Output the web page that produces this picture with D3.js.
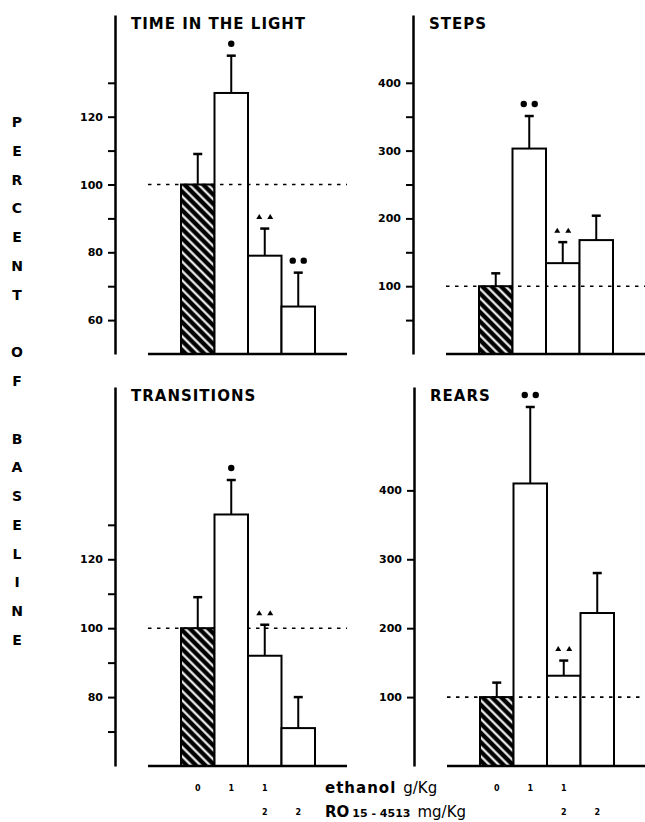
<!DOCTYPE html>
<meta charset="utf-8">
<title>Percent of baseline</title>
<style>
body { margin:0; background:#fff; }
svg text { font-family: "DejaVu Sans", sans-serif; fill:#000; }
.tick text { font-size:11px; font-weight:bold; }
.title { font-size:15px; font-weight:bold; letter-spacing:1px; }
.side { font-size:14px; font-weight:bold; text-anchor:middle; }
.dose { font-size:8px; font-weight:bold; text-anchor:middle; }
</style>
<svg width="645" height="822"></svg>
<script src="https://d3js.org/d3.v7.min.js"></script>
<script>

var svg = d3.select("svg");

// data
var panels = ["TIME IN THE LIGHT", "STEPS", "TRANSITIONS", "REARS"];
var means  = [[100, 127, 79, 64], [100, 303, 134, 168], [100, 133, 92, 71], [100, 410, 131, 222]];
var sems   = [[9, 11, 8, 10], [19, 48, 31, 36], [9, 10, 9, 9], [21, 111, 22, 58]];
var marks  = [["", "dot", "tri2", "dot2"], ["", "dot2", "tri2", ""], ["", "dot", "tri2", ""], ["", "dot2", "tri2", ""]];
var yDomains   = [[50, 150], [0, 500], [60, 170], [0, 550]];
var tickValues = [[60, 70, 80, 90, 100, 110, 120, 130],
                  [50, 100, 150, 200, 250, 300, 350, 400],
                  [70, 80, 90, 100, 110, 120, 130],
                  [100, 200, 300, 400]];
var tickLabels = [[60, 80, 100, 120], [100, 200, 300, 400], [80, 100, 120], [100, 200, 300, 400]];
var baseline = 100;
var ethanolDose = ["0", "1", "1", ""];
var roDose      = ["", "", "2", "2"];
var sideLabel = "PERCENT OF BASELINE";

// panel frames
var frames = [{ax:115, top:15, bottom:354}, {ax:413, top:15, bottom:354},
              {ax:115, top:387, bottom:766}, {ax:414, top:387, bottom:766}];

// hatch for the control bar
var pat = svg.append("defs").append("pattern")
    .attr("id", "hatch")
    .attr("patternUnits", "userSpaceOnUse")
    .attr("width", 6.6).attr("height", 6.6)
    .attr("patternTransform", "rotate(-45)");
pat.append("rect").attr("width", 6.6).attr("height", 6.6).attr("fill", "#000");
pat.append("rect").attr("x", 2.2).attr("width", 2.1).attr("height", 6.6).attr("fill", "#fff");

panels.forEach(function(title, p) {
  var F = frames[p];
  var y = d3.scaleLinear().domain(yDomains[p]).range([F.bottom, F.top]);
  var x = d3.scaleBand().domain(d3.range(4)).range([F.ax + 66, F.ax + 200]);
  var bw = x.bandwidth();
  var g = svg.append("g");

  var ax = g.append("g")
      .attr("transform", "translate(" + F.ax + ",0)")
      .call(d3.axisLeft(y).tickValues(tickValues[p]).tickSizeInner(7).tickSizeOuter(0).tickPadding(5)
        .tickFormat(function(d) { return tickLabels[p].indexOf(d) >= 0 ? d : ""; }));
  ax.select(".domain").attr("stroke-width", 2.5);
  ax.selectAll(".tick line").attr("stroke-width", 2);
  ax.attr("font-family", null).attr("font-size", null);

  var drawRef = function() {
    g.append("line")
      .attr("x1", F.ax + 33).attr("x2", F.ax + 232)
      .attr("y1", y(baseline)).attr("y2", y(baseline))
      .attr("stroke", "#000").attr("stroke-width", 1.6)
      .attr("stroke-dasharray", "3.5,5.5");
  };
  if (p == 2) drawRef();

  g.selectAll(".bar")
    .data(means[p])
    .enter().append("rect")
      .attr("x", function(d, i) { return x(i); })
      .attr("y", function(d) { return y(d); })
      .attr("width", bw)
      .attr("height", function(d) { return y(yDomains[p][0]) - y(d); })
      .attr("fill", function(d, i) { return i == 0 ? "url(#hatch)" : "#fff"; })
      .attr("stroke", "#000").attr("stroke-width", 2);

  if (p != 2) drawRef();

  // error bars
  means[p].forEach(function(m, i) {
    var cx = x(i) + bw / 2, yt = y(m + sems[p][i]);
    g.append("line").attr("x1", cx).attr("x2", cx).attr("y1", y(m)).attr("y2", yt)
      .attr("stroke", "#000").attr("stroke-width", 2);
    g.append("line").attr("x1", cx - 4.5).attr("x2", cx + 4.5).attr("y1", yt).attr("y2", yt)
      .attr("stroke", "#000").attr("stroke-width", 2.5);

    var k = marks[p][i], my = yt - 12;
    if (!k) return;
    var xs = k == "dot" ? [cx] : [cx - 5.5, cx + 5.5];
    xs.forEach(function(mx) {
      if (k.indexOf("dot") == 0) {
        g.append("circle").attr("cx", mx).attr("cy", my).attr("r", 3.2).attr("fill", "#000");
      } else {
        g.append("path")
          .attr("d", "M" + (mx - 3) + "," + (my + 2.5) + "L" + mx + "," + (my - 2.5) + "L" + (mx + 3) + "," + (my + 2.5) + "Z")
          .attr("fill", "#000");
      }
    });
  });

  // baseline of bars
  g.append("line")
    .attr("x1", F.ax + 33).attr("x2", F.ax + 232)
    .attr("y1", F.bottom).attr("y2", F.bottom)
    .attr("stroke", "#000").attr("stroke-width", 2.5);

  g.append("text").attr("class", "title")
    .attr("x", F.ax + 16).attr("y", F.top + 14)
    .text(title);

  // dose labels under the lower panels
  if (p >= 2) {
    g.selectAll(".e").data(ethanolDose).enter().append("text").attr("class", "dose")
      .attr("x", function(d, i) { return x(i) + bw / 2; }).attr("y", 791).text(function(d) { return d; });
    g.selectAll(".r").data(roDose).enter().append("text").attr("class", "dose")
      .attr("x", function(d, i) { return x(i) + bw / 2; }).attr("y", 815).text(function(d) { return d; });
  }
});

// x legend
var lg = svg.append("g");
var t1 = lg.append("text").attr("x", 325).attr("y", 793).attr("font-size", 15);
t1.append("tspan").attr("font-weight", "bold").attr("letter-spacing", "1px").text("ethanol");
t1.append("tspan").attr("dx", 7).text("g/Kg");
var t2 = lg.append("text").attr("x", 325).attr("y", 817).attr("font-size", 15);
t2.append("tspan").attr("font-weight", "bold").text("RO");
t2.append("tspan").attr("dx", 3).attr("font-weight", "bold").attr("font-size", 11).text("15 - 4513");
t2.append("tspan").attr("dx", 7).text("mg/Kg");

// vertical side label
var ys = d3.scalePoint().domain(d3.range(sideLabel.length)).range([122, 640]);
svg.selectAll(".side")
  .data(sideLabel.split(""))
  .enter().append("text").attr("class", "side")
    .attr("x", 17).attr("y", function(d, i) { return ys(i) + 5; })
    .text(function(d) { return d; });

</script>
